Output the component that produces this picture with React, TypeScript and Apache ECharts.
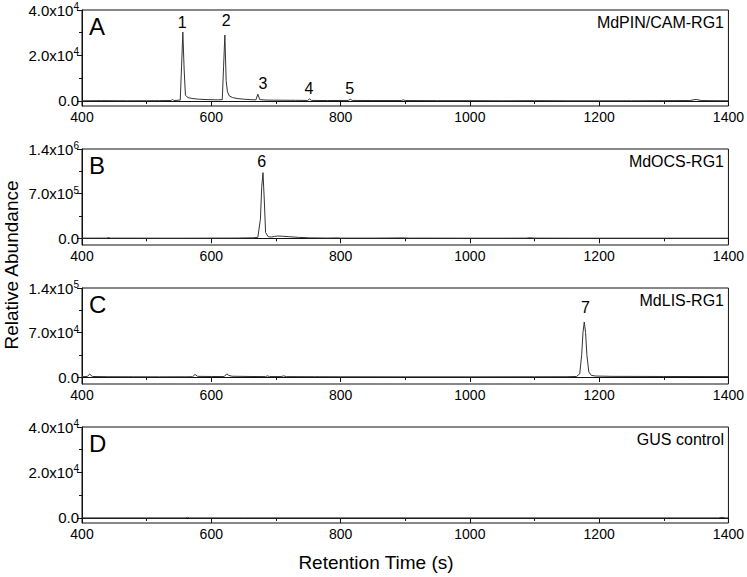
import React, { useEffect, useRef } from "react";
import * as echarts from "echarts";

// ---- data (retention time in s, abundance) ----
const timesA = [400, 430, 470, 500, 520, 538, 540, 542, 552, 554, 556, 558, 560, 564, 570, 580, 595, 610, 617, 619, 621, 623, 625, 628, 633, 640, 650, 660, 669, 672, 675, 685, 700, 730, 749, 752, 755, 780, 812, 815, 818, 850, 894, 897, 900, 950, 1000, 1050, 1100, 1150, 1200, 1250, 1300, 1340, 1350, 1358, 1370, 1400];
const valuesA = [100, 150, 100, 120, 150, 200, 800, 200, 400, 15000, 30300, 14000, 2500, 1500, 1100, 800, 600, 500, 600, 15000, 29000, 9000, 4000, 2200, 1500, 1100, 800, 600, 500, 3000, 600, 400, 350, 300, 250, 900, 250, 200, 250, 800, 250, 200, 200, 500, 200, 150, 150, 100, 150, 100, 100, 100, 150, 200, 700, 200, 150, 100];

const timesB = [400, 420, 438, 441, 444, 470, 520, 560, 600, 640, 665, 672, 676, 678, 680, 682, 684, 688, 693, 698, 703, 710, 720, 735, 752, 780, 796, 800, 850, 899, 905, 950, 1000, 1050, 1088, 1092, 1100, 1150, 1200, 1300, 1400];
const valuesB = [3000, 3000, 3000, 12000, 3000, 3000, 2000, 2000, 3000, 4000, 8000, 15000, 300000, 800000, 1030000, 600000, 90000, 25000, 20000, 30000, 36000, 32000, 25000, 15000, 7000, 4000, 6000, 3000, 3000, 6000, 3000, 3000, 2000, 2000, 3000, 9000, 3000, 2000, 2000, 2000, 2000];

const timesC = [400, 408, 412, 416, 440, 480, 520, 560, 571, 575, 579, 600, 620, 624, 627, 632, 660, 684, 687, 690, 708, 712, 716, 760, 800, 900, 1000, 1100, 1150, 1165, 1170, 1173, 1175, 1177, 1179, 1181, 1184, 1188, 1195, 1220, 1300, 1400];
const valuesC = [500, 800, 4500, 800, 500, 400, 300, 400, 500, 4000, 1000, 800, 700, 5000, 2500, 1200, 800, 700, 1800, 700, 700, 1800, 600, 500, 400, 300, 300, 400, 500, 800, 5000, 35000, 70000, 86500, 70000, 35000, 8000, 2500, 1500, 1000, 800, 700];

const timesD = [400, 500, 560, 563, 566, 650, 800, 1000, 1200, 1385, 1390, 1395, 1400];
const valuesD = [50, 50, 50, 250, 50, 50, 50, 50, 50, 50, 300, 50, 50];

const panelLetters = ["A", "B", "C", "D"];
const panelNames = ["MdPIN/CAM-RG1", "MdOCS-RG1", "MdLIS-RG1", "GUS control"];
const yMax = [40000, 1400000, 140000, 40000];
const yMin = [-2200, -105000, -11000, -2200];

// peak labels: [time, abundance, label]
const peaksA: [number, number, string][] = [[555, 34700, "1"], [623, 35200, "2"], [680, 7500, "3"], [751, 5300, "4"], [814, 5300, "5"]];
const peaksB: [number, number, string][] = [[678, 1210000, "6"]];
const peaksC: [number, number, string][] = [[1179, 110000, "7"]];
const peaksD: [number, number, string][] = [];

const xTicks = [400, 600, 800, 1000, 1200, 1400];

const FONT = "Liberation Sans, Arial, sans-serif";

export default function App() {
  const ref = useRef<HTMLDivElement>(null);
  useEffect(() => {
    if (!ref.current) return;
    const chart = echarts.init(ref.current, null, { renderer: "svg" });
    const times = [timesA, timesB, timesC, timesD];
    const values = [valuesA, valuesB, valuesC, valuesD];
    const peaks = [peaksA, peaksB, peaksC, peaksD];
    const tops = [10, 149, 288, 427];
    const H = 96;
    const L = 82;
    const W = 647;

    const fmt = (v: number) => {
      if (v === 0) return "{m|0.0}";
      const e = Math.floor(Math.log10(v) + 1e-9);
      const m = v / Math.pow(10, e);
      return `{m|${m.toFixed(1)}x10}{e|${e}}`;
    };

    const grid: any[] = [];
    const xAxis: any[] = [];
    const yAxis: any[] = [];
    const series: any[] = [];
    const graphic: any[] = [];

    for (let i = 0; i < 4; i++) {
      grid.push({ left: L, top: tops[i], width: W, height: H, show: true, borderColor: "#111", borderWidth: 1, backgroundColor: "transparent" });
      xAxis.push({
        type: "value", gridIndex: i, min: 400, max: 1400, interval: 200,
        axisLine: { lineStyle: { color: "#111", width: 1 } },
        axisTick: { length: 5, lineStyle: { color: "#111" }, customValues: xTicks },
        minorTick: { show: true, splitNumber: 2, length: 3, lineStyle: { color: "#111" } },
        splitLine: { show: false },
        axisLabel: { fontSize: 14, color: "#000", fontFamily: FONT, margin: 4, customValues: xTicks, formatter: (v: number) => String(v) },
      });
      const mx = yMax[i];
      yAxis.push({
        type: "value", gridIndex: i, min: yMin[i], max: mx, position: "left",
        axisLine: { show: true, lineStyle: { color: "#111", width: 1 } },
        axisTick: { show: true, length: 5, lineStyle: { color: "#111" }, customValues: [0, mx / 2, mx] },
        splitLine: { show: false },
        axisLabel: {
          customValues: [0, mx / 2, mx], margin: 3, formatter: fmt,
          rich: {
            m: { fontSize: 15, color: "#000", fontFamily: FONT, lineHeight: 17 },
            e: { fontSize: 10, color: "#000", fontFamily: FONT, verticalAlign: "top", lineHeight: 17 },
          },
        },
      });
      yAxis.push({
        type: "value", gridIndex: i, min: yMin[i], max: mx, position: "left", offset: 0,
        axisLine: { show: false },
        axisTick: { show: true, length: 3, lineStyle: { color: "#111" }, customValues: [mx / 4, (3 * mx) / 4] },
        splitLine: { show: false },
        axisLabel: { show: false },
      });
      series.push({
        type: "line", xAxisIndex: i, yAxisIndex: 2 * i, showSymbol: false, symbol: "none",
        lineStyle: { color: "#333", width: 1 },
        data: times[i].map((t, k) => [t, values[i][k]]),
      });
      graphic.push({
        type: "text", left: 89, top: tops[i] + 4,
        style: { text: panelLetters[i], fontSize: 24, fill: "#000", fontFamily: FONT },
      });
      graphic.push({
        type: "text", x: 724, y: tops[i] + 12,
        style: { text: panelNames[i], fontSize: 16, fill: "#000", fontFamily: FONT, align: "right", verticalAlign: "middle" },
      });
    }

    graphic.push({
      type: "text", x: 11, y: 265, rotation: Math.PI / 2,
      style: { text: "Relative Abundance", fontSize: 19, fill: "#000", fontFamily: FONT, align: "center", verticalAlign: "middle" },
    });
    graphic.push({
      type: "text", x: 376, y: 562,
      style: { text: "Retention Time (s)", fontSize: 19, fill: "#000", fontFamily: FONT, align: "center", verticalAlign: "middle" },
    });

    chart.setOption({ animation: false, backgroundColor: "#fff", grid, xAxis, yAxis, series, graphic });

    // peak labels positioned through the chart's own scales
    const labelTexts: any[] = [];
    for (let i = 0; i < 4; i++) {
      for (const p of peaks[i]) {
        const px = chart.convertToPixel({ gridIndex: i }, [p[0], p[1]]) as number[];
        labelTexts.push({
          type: "text", x: px[0], y: px[1],
          style: { text: p[2], fontSize: 16, fill: "#000", fontFamily: FONT, align: "center", verticalAlign: "middle" },
        });
      }
    }
    chart.setOption({ graphic: [...graphic, ...labelTexts] });
    return () => chart.dispose();
  }, []);
  return <div ref={ref} style={{ position: "fixed", left: 0, top: 0, width: 747, height: 577 }} />;
}
